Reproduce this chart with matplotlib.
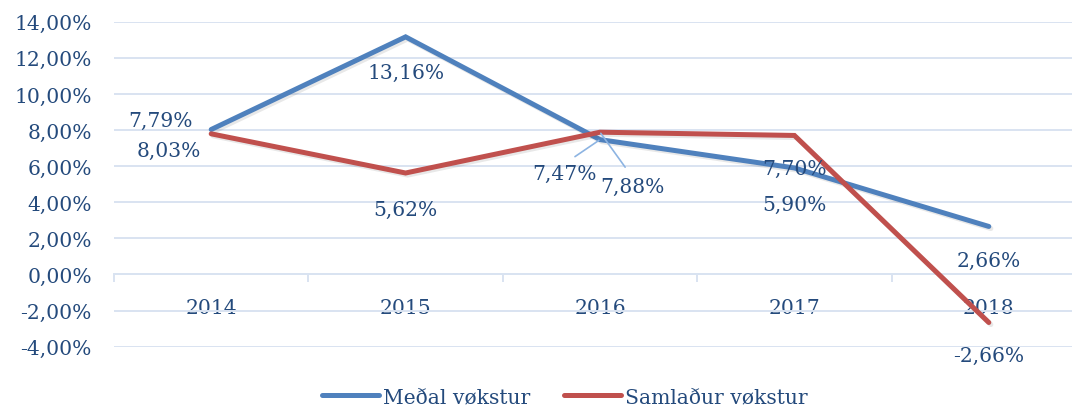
import matplotlib
matplotlib.use('Agg')
import matplotlib.pyplot as plt
import matplotlib.patheffects as pe
import numpy as np

years = ['2014', '2015', '2016', '2017', '2018']
medal = [8.03, 13.16, 7.47, 5.90, 2.66]
samla = [7.79, 5.62, 7.88, 7.70, -2.66]
yticks = [-4, -2, 0, 2, 4, 6, 8, 10, 12, 14]

# label offsets in pixels (dx, dy) relative to each point
medal_off = [(-42, -21), (0, -36), (-36, -34), (0, -36), (0, -34)]
samla_off = [(-51, 13), (0, -36), (32, -54), (0, -33), (0, -33)]

txt = '#244A7C'
grid_c = '#D9E3F1'
blue = '#4F81BD'
red = '#C0504D'
fs = 14.6

plt.rcParams['font.family'] = ['DejaVu Serif']
plt.rcParams['font.size'] = fs

fig = plt.figure(figsize=(10.72, 4.10), dpi=100)
ax = fig.add_axes([114 / 1072, 1 - 347.7 / 410, 972 / 1072, 325 / 410])

x = np.arange(len(years))
shadow = [pe.SimpleLineShadow(offset=(1.5, -1.5), alpha=0.12, shadow_color='#444444'), pe.Normal()]
l1, = ax.plot(x, medal, color=blue, lw=3.6, solid_capstyle='round', solid_joinstyle='miter',
              path_effects=shadow, label='Meðal vøkstur', zorder=3)
l2, = ax.plot(x, samla, color=red, lw=3.6, solid_capstyle='round', solid_joinstyle='miter',
              path_effects=shadow, label='Samlaður vøkstur', zorder=3)

ax.set_xlim(-0.5, 4.5)
ax.set_ylim(-4, 14)
ax.set_yticks(yticks)
ax.set_yticklabels(['{:.2f}%'.format(v).replace('.', ',') for v in yticks])
ax.set_xticks(x)
ax.set_xticklabels(years)
ax.set_xticks(np.arange(-0.5, 4.6, 1), minor=True)

for s in ['top', 'right', 'left']:
    ax.spines[s].set_visible(False)
ax.spines['bottom'].set_position(('data', 0))
ax.spines['bottom'].set_color(grid_c)
ax.spines['bottom'].set_linewidth(1.4)

ax.grid(axis='y', color=grid_c, lw=1.4)
ax.set_axisbelow(True)
ax.tick_params(axis='y', length=0, pad=16, colors=txt, labelsize=fs)
ax.tick_params(axis='x', which='major', length=0, pad=17, colors=txt, labelsize=fs)
ax.tick_params(axis='x', which='minor', length=6, width=1.4, color=grid_c)


def fmt(v):
    return '{:.2f}%'.format(v).replace('.', ',')


lead = dict(arrowstyle='-', color='#8DB4E2', lw=1.2, shrinkA=6, shrinkB=1, relpos=(0.5, 1))
for i in range(len(years)):
    kw = {'arrowprops': lead} if i == 2 else {}
    ax.annotate(fmt(medal[i]), (x[i], medal[i]), xytext=medal_off[i], textcoords='offset pixels',
                ha='center', va='center', color=txt, fontsize=fs, **kw)
    ax.annotate(fmt(samla[i]), (x[i], samla[i]), xytext=samla_off[i], textcoords='offset pixels',
                ha='center', va='center', color=txt, fontsize=fs, **kw)

leg = fig.legend(handles=[l1, l2], loc='center', bbox_to_anchor=(0.527, 0.03), ncol=2,
                 frameon=False, handlelength=2.8, columnspacing=1.7, handletextpad=0.2,
                 fontsize=fs)
for t in leg.get_texts():
    t.set_color(txt)
for h in leg.legend_handles:
    h.set_path_effects([])

fig.savefig('out.png', dpi=100)
